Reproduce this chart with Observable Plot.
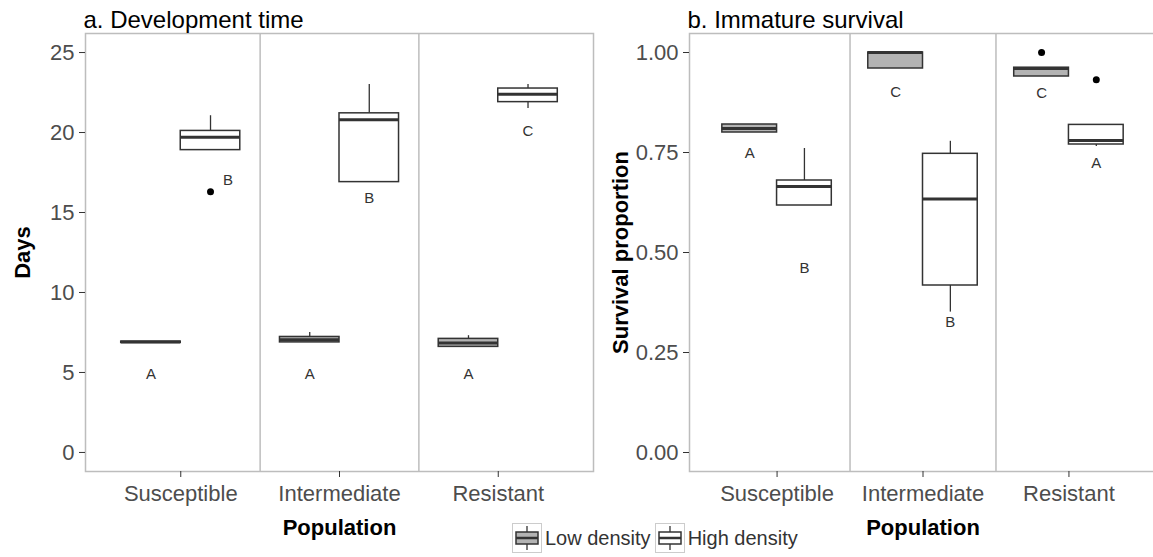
<!DOCTYPE html>
<html><head><meta charset="utf-8">
<script src="https://cdn.jsdelivr.net/npm/d3@7"></script>
<script src="https://cdn.jsdelivr.net/npm/@observablehq/plot@0.6"></script>
<style>
body{margin:0;overflow:hidden;background:#fff;font-family:"Liberation Sans",Arial,sans-serif;}
#wrap{position:relative;width:1153px;height:557px;overflow:hidden;}
.panel{position:absolute;top:0;}
.panel svg{max-width:none !important;}
#legend{position:absolute;left:512px;top:523px;display:flex;align-items:center;font-size:20px;color:#333;height:30px;}
#legend .key{width:28px;height:28px;border:1px solid #ccc;display:inline-block;}
#legend span.lab{margin:0 4px 0 3px;}
</style></head><body><div id="wrap"><div id="left" class="panel" style="left:0;width:600px"></div><div id="right" class="panel" style="left:600px;width:560px"></div><div id="legend"></div></div>
<script>
// ---- data ----
const populations = ["Susceptible", "Intermediate", "Resistant"];
const densities = ["Low density", "High density"];
const groupPop = ["Susceptible", "Susceptible", "Intermediate", "Intermediate", "Resistant", "Resistant"];
const groupDensity = ["Low density", "High density", "Low density", "High density", "Low density", "High density"];

// a. Development time (days)
const devMin = [6.85, 18.9, 6.88, 16.9, 6.6, 21.5];
const devQ1  = [6.85, 18.9, 6.88, 16.9, 6.6, 21.9];
const devMed = [6.9, 19.7, 7.05, 20.8, 6.85, 22.4];
const devQ3  = [6.93, 20.1, 7.22, 21.2, 7.1, 22.75];
const devMax = [6.93, 21.05, 7.5, 23.0, 7.3, 23.0];
const devOutPop = ["Susceptible"], devOutDensity = ["High density"], devOutValue = [16.3];
const devLetters = ["A", "B", "A", "B", "A", "C"];
const devLetterY = [4.9, 17.0, 4.9, 15.9, 4.9, 20.1];
const devLetterNudge = [0, 0.11, 0, 0, 0, 0];
const devTicks = [0, 5, 10, 15, 20, 25];

// b. Immature survival (proportion)
const survMin = [0.80, 0.6175, 0.96, 0.351, 0.94, 0.765];
const survQ1  = [0.80, 0.6175, 0.96, 0.4175, 0.94, 0.77];
const survMed = [0.81, 0.665, 1.0, 0.634, 0.96, 0.78];
const survQ3  = [0.82, 0.68, 1.0, 0.7467, 0.962, 0.819];
const survMax = [0.82, 0.76, 1.0, 0.778, 0.962, 0.819];
const survOutPop = ["Resistant", "Resistant"], survOutDensity = ["Low density", "High density"], survOutValue = [1.0, 0.932];
const survLetters = ["A", "B", "C", "B", "C", "A"];
const survLetterY = [0.7475, 0.46, 0.90, 0.326, 0.898, 0.7225];
const survLetterNudge = [0, 0, 0, 0, 0, 0];
const survTicks = [0, 0.25, 0.5, 0.75, 1.0];

// ---- build ----
const HALF = 0.1875; // half of a dodged box (0.75 / 2 / 2)
const xpos = d => populations.indexOf(d.pop) + 1 + (d.density === densities[0] ? -HALF : HALF);
const fillOf = d => d.density === densities[0] ? "#b3b3b3" : "#ffffff";

function rowsOf(mn, q1, md, q3, mx) {
  return groupPop.map((p, i) => ({pop: p, density: groupDensity[i], min: mn[i], q1: q1[i], med: md[i], q3: q3[i], max: mx[i]}));
}

function panel({rows, outliers, letters, yDomain, yTicks, yFormat, yLabel, title, width, marginLeft, marginRight, yLabelDx}) {
  return Plot.plot({
    width, height: 545,
    marginTop: 33, marginBottom: 74, marginLeft, marginRight,
    style: {fontFamily: "'Liberation Sans', Arial, sans-serif", background: "white", overflow: "visible", maxWidth: "none"},
    x: {type: "linear", domain: [0.4, 3.6]},
    y: {domain: yDomain},
    marks: [
      Plot.ruleX([1.5, 2.5], {stroke: "#bdbdbd", strokeWidth: 1.5}),
      Plot.frame({stroke: "#bdbdbd", strokeWidth: 1.5}),
      Plot.ruleX(rows, {x: xpos, y1: "q3", y2: "max", stroke: "#333", strokeWidth: 1.3}),
      Plot.ruleX(rows, {x: xpos, y1: "min", y2: "q1", stroke: "#333", strokeWidth: 1.3}),
      Plot.rect(rows, {x1: d => xpos(d) - HALF, x2: d => xpos(d) + HALF, y1: "q1", y2: "q3", fill: fillOf, stroke: "#333", strokeWidth: 1.5}),
      Plot.ruleY(rows, {y: "med", x1: d => xpos(d) - HALF, x2: d => xpos(d) + HALF, stroke: "#333", strokeWidth: 3}),
      Plot.dot(outliers, {x: xpos, y: "value", r: 3.5, fill: "black", stroke: null}),
      Plot.text(letters, {x: d => xpos(d) + d.nudge, y: "y", text: "letter", fontSize: 15, fill: "#333"}),
      Plot.axisX({ticks: [1, 2, 3], tickFormat: i => populations[i - 1], tickSize: 6, tickPadding: 8, fontSize: 22, stroke: "#333", fill: "#4d4d4d", label: null}),
      Plot.axisY({ticks: yTicks, tickFormat: yFormat, tickSize: 6, tickPadding: 5, fontSize: 22, stroke: "#333", fill: "#4d4d4d", label: null}),
      Plot.text(["Population"], {text: d => d, frameAnchor: "bottom", lineAnchor: "middle", textAnchor: "middle", dy: 56, fontSize: 22, fontWeight: "bold", fill: "black"}),
      Plot.text([yLabel], {text: d => d, frameAnchor: "left", lineAnchor: "middle", textAnchor: "middle", rotate: -90, dx: yLabelDx, fontSize: 22, fontWeight: "bold", fill: "black"}),
      Plot.text([title], {text: d => d, frameAnchor: "top-left", lineAnchor: "bottom", textAnchor: "start", dx: -2, dy: -6, fontSize: 24, fill: "black"})
    ]
  });
}

const devRows = rowsOf(devMin, devQ1, devMed, devQ3, devMax);
const devOut = devOutValue.map((v, i) => ({pop: devOutPop[i], density: devOutDensity[i], value: v}));
const devLet = devLetters.map((l, i) => ({pop: groupPop[i], density: groupDensity[i], letter: l, y: devLetterY[i], nudge: devLetterNudge[i]}));
const survRows = rowsOf(survMin, survQ1, survMed, survQ3, survMax);
const survOut = survOutValue.map((v, i) => ({pop: survOutPop[i], density: survOutDensity[i], value: v}));
const survLet = survLetters.map((l, i) => ({pop: groupPop[i], density: groupDensity[i], letter: l, y: survLetterY[i], nudge: survLetterNudge[i]}));

document.getElementById("left").append(panel({
  rows: devRows, outliers: devOut, letters: devLet,
  yDomain: [-1.19, 26.19], yTicks: devTicks, yFormat: d => String(d), yLabel: "Days", title: "a. Development time",
  width: 600, marginLeft: 85, marginRight: 7, yLabelDx: -63
}));
document.getElementById("right").append(panel({
  rows: survRows, outliers: survOut, letters: survLet,
  yDomain: [-0.0475, 1.0475], yTicks: survTicks, yFormat: d3.format(".2f"), yLabel: "Survival proportion", title: "b. Immature survival",
  width: 560, marginLeft: 89, marginRight: 4, yLabelDx: -69
}));

// legend
const keySvg = fill => `<svg width="28" height="28" viewBox="0 0 28 28"><line x1="14" y1="2" x2="14" y2="8" stroke="#333" stroke-width="1.3"/><line x1="14" y1="20" x2="14" y2="26" stroke="#333" stroke-width="1.3"/><rect x="3" y="8" width="22" height="12" fill="${fill}" stroke="#333" stroke-width="1.5"/><line x1="3" y1="14" x2="25" y2="14" stroke="#333" stroke-width="2.5"/></svg>`;
document.getElementById("legend").innerHTML = densities.map((d, i) =>
  `<span class="key">${keySvg(i === 0 ? "#b3b3b3" : "#ffffff")}</span><span class="lab">${d}</span>`).join("");
</script></body></html>
